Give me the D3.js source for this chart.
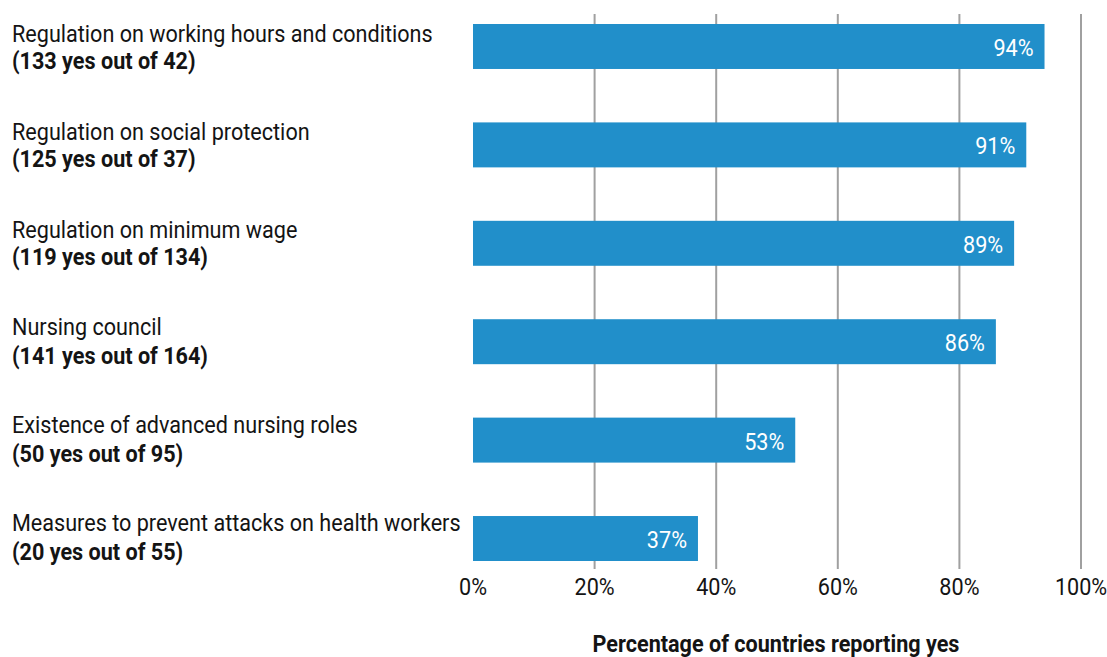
<!DOCTYPE html>
<html>
<head>
<meta charset="utf-8">
<script src="https://cdn.jsdelivr.net/npm/d3@7"></script>
<style>
  body { margin: 0; background: #ffffff; }
  svg text { font-family: "Roboto", "DejaVu Sans Condensed", sans-serif; font-size: 24px; fill: #141414; }
</style>
</head>
<body>
<svg id="chart"></svg>
<script>
// chart values
var categories = [
    "Regulation on working hours and conditions",
    "Regulation on social protection",
    "Regulation on minimum wage",
    "Nursing council",
    "Existence of advanced nursing roles",
    "Measures to prevent attacks on health workers"
];
var counts = [
    "(133 yes out of 42)",
    "(125 yes out of 37)",
    "(119 yes out of 134)",
    "(141 yes out of 164)",
    "(50 yes out of 95)",
    "(20 yes out of 55)"
];
var values = [94, 91, 89, 86, 53, 37];
var ticks = [0, 20, 40, 60, 80, 100];
var axisTitle = "Percentage of countries reporting yes";

var width = 1107, height = 657;
var margin = { top: 24, left: 473, right: 26, bottom: 96 };
var squeeze = 0.9; // fake a condensed face

var svg = d3.select("#chart").attr("width", width).attr("height", height);

var x = d3.scaleLinear().domain([0, 100]).range([margin.left, width - margin.right]);
var y = d3.scaleBand()
    .domain(d3.range(categories.length))
    .range([margin.top, height - margin.bottom])
    .paddingInner(0.543)
    .paddingOuter(0);

function place(sel, fx, fy) {
    sel.attr("transform", function(d, i) {
        return "translate(" + fx(d, i) + "," + fy(d, i) + ") scale(" + squeeze + ",1)";
    });
}

// grid lines
svg.append("g")
    .attr("class", "grid")
    .selectAll("line")
    .data(ticks.filter(function(d) { return d > 0; }))
    .enter().append("line")
    .attr("x1", function(d) { return x(d); })
    .attr("x2", function(d) { return x(d); })
    .attr("y1", 14)
    .attr("y2", 569)
    .style("stroke", "#a0a0a0")
    .style("stroke-width", 2);

// bars
svg.append("g")
    .attr("class", "bars")
    .selectAll("rect")
    .data(values)
    .enter().append("rect")
    .attr("x", x(0))
    .attr("y", function(d, i) { return y(i); })
    .attr("width", function(d) { return x(d) - x(0); })
    .attr("height", y.bandwidth())
    .style("fill", "#218fca");

// value labels
svg.append("g")
    .selectAll("text")
    .data(values)
    .enter().append("text")
    .attr("text-anchor", "end")
    .style("fill", "#ffffff")
    .text(function(d) { return d + "%"; })
    .call(place,
        function(d) { return x(d) - 11; },
        function(d, i) { return y(i) + y.bandwidth() / 2 + 9.5; });

// category labels
var labels = svg.append("g").attr("class", "labels");

labels.selectAll("text.name")
    .data(categories)
    .enter().append("text")
    .attr("class", "name")
    .text(function(d) { return d; })
    .call(place,
        function() { return 12; },
        function(d, i) { return y(i) + y.bandwidth() / 2 - 4.5 - i * 0.6; });

labels.selectAll("text.count")
    .data(counts)
    .enter().append("text")
    .attr("class", "count")
    .style("font-weight", "bold")
    .text(function(d) { return d; })
    .call(place,
        function() { return 12; },
        function(d, i) { return y(i) + y.bandwidth() / 2 + 22.5 - i * 0.2; });

// x axis tick labels
svg.append("g")
    .selectAll("text")
    .data(ticks)
    .enter().append("text")
    .attr("text-anchor", "middle")
    .text(function(d) { return d + "%"; })
    .call(place,
        function(d) { return x(d); },
        function() { return 595; });

svg.append("text")
    .attr("text-anchor", "middle")
    .style("font-weight", "bold")
    .text(axisTitle)
    .call(place,
        function() { return (x(0) + x(100)) / 2 - 1; },
        function() { return 652; });
</script>
</body>
</html>
